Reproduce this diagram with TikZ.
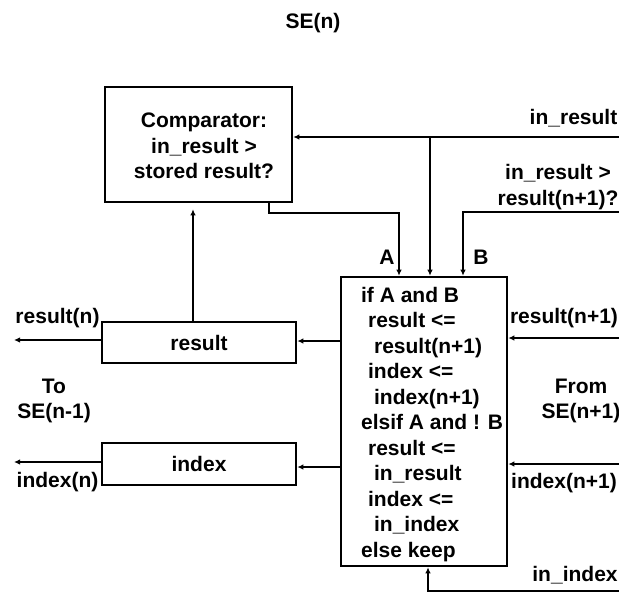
\documentclass[tikz,border=0pt]{standalone}
\usepackage{fontspec}
\setmainfont{Liberation Sans}
\usetikzlibrary{arrows.meta}

\begin{document}
\begin{tikzpicture}[x=1pt,y=-1pt,line width=2.2pt,
    font=\fontsize{21}{25.5}\selectfont\bfseries,
    >={Latex[length=6pt,width=5.5pt]},
    block/.style={draw,line width=2.6pt,inner sep=0pt},
    lbl/.style={inner sep=0pt,align=center}]
    \useasboundingbox (0,0) rectangle (619,592);
    \node[lbl] (title) at (313,23) {SE(n)};
    \node[block,minimum width=187pt,minimum height=115pt] (comp) at (198.5,144.5) {};
    \node[lbl] (comptext) at (204,146) {Comparator:\\in\_result >\\stored result?};
    \node[block,minimum width=194pt,minimum height=41pt] (res) at (199,342.5) {result};
    \node[block,minimum width=194pt,minimum height=42pt] (idx) at (199,464) {index};
    \node[block,minimum width=166pt,minimum height=289pt] (mux) at (424,421.5) {};
    \node[lbl,anchor=west,align=left] (rule) at (360,424.5) {if A and B\\
        \hspace*{7pt}result <=\\
        \hspace*{13pt}result(n+1)\\
        \hspace*{7pt}index <=\\
        \hspace*{13pt}index(n+1)\\
        elsif A and ! B\\
        \hspace*{7pt}result <=\\
        \hspace*{13pt}in\_result\\
        \hspace*{7pt}index <=\\
        \hspace*{13pt}in\_index\\
        else keep};
    \node[lbl] (inreslbl) at (573.5,118) {in\_result};
    \node[lbl] (blbl) at (558,187) {in\_result >\\result(n+1)?};
    \node[lbl] (albl) at (387,257) {A};
    \node[lbl] (bsig) at (481,257) {B};
    \node[lbl] (resnlbl) at (57.5,318) {result(n)};
    \node[lbl] (idxnlbl) at (57.5,482) {index(n)};
    \node[lbl] (tolbl) at (54,401) {To\\SE(n-1)};
    \node[lbl] (fromlbl) at (581,401) {From\\SE(n+1)};
    \node[lbl] (resinlbl) at (564,318) {result(n+1)};
    \node[lbl] (idxinlbl) at (564,483) {index(n+1)};
    \node[lbl] (inidxlbl) at (575,575) {in\_index};
    \coordinate (inres) at (619,137);
    \coordinate (split) at (430,137);
    \coordinate (bin) at (619,212);
    \coordinate (bdrop) at (463,212);
    \coordinate (astub) at (269,213);
    \coordinate (abend) at (399,213);
    \coordinate (fb) at (193,0);
    \coordinate (rrow) at (0,341);
    \coordinate (irow) at (0,467);
    \coordinate (resout) at (14,340);
    \coordinate (idxout) at (14,462);
    \coordinate (resin) at (619,338);
    \coordinate (idxin) at (619,464);
    \coordinate (inidx) at (619,591);
    \coordinate (inidxup) at (428,591);
    \draw[->] (inres) -- (comp.east |- inres);
    \draw[->] (split) -- (split |- mux.north);
    \draw[->] (bin) -- (bdrop) -- (bdrop |- mux.north);
    \draw[->] (comp.south -| astub) -- (astub) -- (abend) -- (abend |- mux.north);
    \draw[->,shorten >=6pt] (res.north -| fb) -- (comp.south -| fb);
    \draw[->] (mux.west |- rrow) -- (res.east |- rrow);
    \draw[->] (mux.west |- irow) -- (idx.east |- irow);
    \draw[->] (res.west |- resout) -- (resout);
    \draw[->] (idx.west |- idxout) -- (idxout);
    \draw[->] (resin) -- (mux.east |- resin);
    \draw[->] (idxin) -- (mux.east |- idxin);
    \draw[->] (inidx) -- (inidxup) -- (inidxup |- mux.south);
\end{tikzpicture}
\end{document}
